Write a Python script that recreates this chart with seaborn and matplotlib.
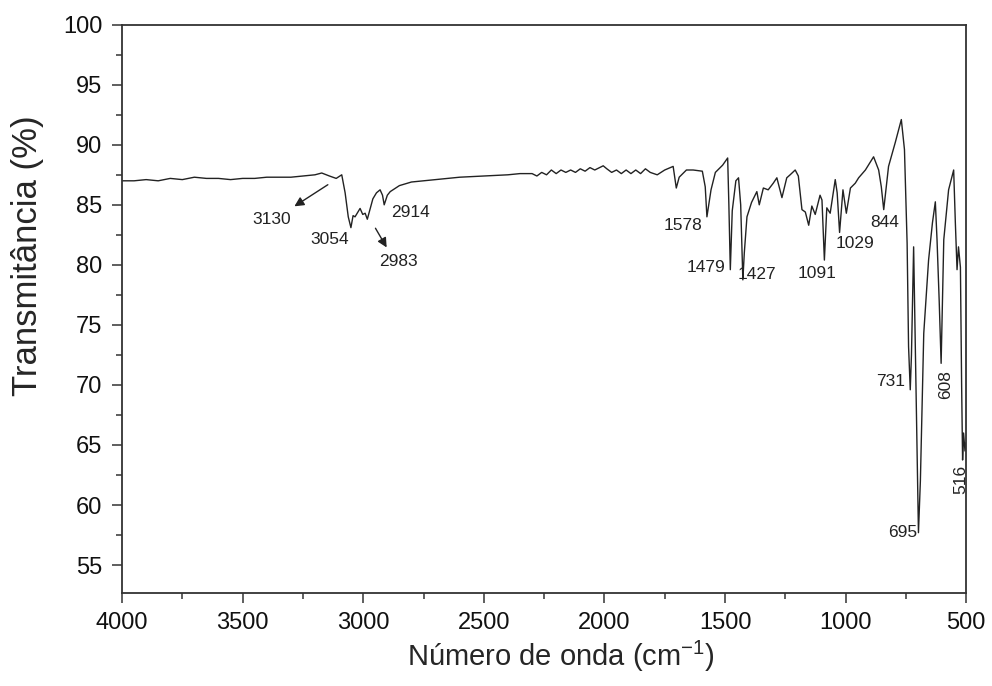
"""
Espectro FTIR: transmitância vs número de onda.
"""

import matplotlib
matplotlib.use("Agg")
import matplotlib.pyplot as plt
import pandas as pd
import seaborn as sns
from matplotlib.ticker import MultipleLocator

numero_onda = [
    4000, 3950, 3900, 3850, 3800, 3750, 3700, 3650, 3600, 3550,
    3500, 3450, 3400, 3350, 3300, 3250, 3200, 3172, 3140, 3112,
    3089, 3075, 3062, 3051, 3042, 3034, 3013, 3002, 2992, 2983,
    2960, 2945, 2930, 2920, 2913, 2900, 2888, 2850, 2800, 2700,
    2600, 2500, 2400, 2350, 2300, 2280, 2260, 2240, 2220, 2200,
    2180, 2160, 2140, 2120, 2100, 2080, 2060, 2040, 2020, 2005,
    1990, 1970, 1950, 1930, 1910, 1890, 1870, 1850, 1830, 1810,
    1781, 1750, 1715, 1702, 1690, 1660, 1632, 1594, 1582, 1575,
    1558, 1540, 1510, 1489, 1484, 1478, 1470, 1455, 1444, 1435,
    1426, 1420, 1409, 1390, 1368, 1358, 1341, 1321, 1300, 1285,
    1264, 1244, 1230, 1209, 1196, 1181, 1167, 1153, 1140, 1126,
    1106, 1098, 1088, 1078, 1064, 1043, 1035, 1025, 1011, 997,
    980, 960, 946, 918, 884, 863, 852, 842, 822, 794,
    769, 756, 745, 739, 732, 727, 718, 710, 698, 690,
    676, 656, 640, 628, 621, 612, 604, 593, 573, 552,
    545, 538, 532, 524, 519, 515, 511, 505, 501,
]
transmitancia = [
    87.0, 87.0, 87.1, 87.0, 87.2, 87.1, 87.3, 87.2, 87.2, 87.1,
    87.2, 87.2, 87.3, 87.3, 87.3, 87.4, 87.5, 87.65, 87.4, 87.2,
    87.5, 86.0, 84.0, 83.1, 84.1, 84.0, 84.7, 84.2, 84.3, 83.8,
    85.5, 86.0, 86.25, 85.8, 85.0, 85.8, 86.1, 86.6, 86.9, 87.1,
    87.3, 87.4, 87.5, 87.6, 87.6, 87.4, 87.7, 87.5, 87.9, 87.6,
    87.9, 87.7, 87.9, 87.7, 88.0, 87.8, 88.1, 87.9, 88.1, 88.25,
    88.0, 87.7, 87.9, 87.6, 87.9, 87.6, 87.9, 87.6, 88.0, 87.7,
    87.5, 87.9, 88.2, 86.4, 87.3, 87.9, 87.9, 87.8, 86.5, 84.0,
    86.25, 87.7, 88.3, 88.9, 85.0, 79.6, 84.5, 87.0, 87.25, 85.0,
    78.75, 81.0, 84.0, 85.2, 86.1, 85.0, 86.4, 86.25, 86.8, 87.25,
    85.6, 87.25, 87.5, 87.9, 87.4, 84.6, 84.4, 83.3, 84.9, 84.2,
    85.8, 85.4, 80.4, 84.75, 84.3, 87.1, 86.0, 82.7, 86.25, 84.3,
    86.4, 86.8, 87.25, 87.9, 89.0, 87.9, 86.5, 84.6, 88.2, 90.2,
    92.1, 89.6, 81.8, 73.2, 69.6, 72.5, 81.5, 72.0, 57.7, 62.0,
    74.3, 80.4, 83.5, 85.25, 82.1, 77.0, 71.8, 82.1, 86.25, 87.9,
    83.5, 79.6, 81.5, 79.8, 70.0, 63.75, 66.0, 64.5, 65.2,
]

# Rótulos dos picos e posição do texto (cm-1, %T)
picos_rotulos = ["3054", "2914", "1578", "1479", "1427", "1091", "1029", "844", "731", "695"]
picos_x = [3137, 2805, 1673, 1578, 1366, 1117, 960, 840, 815, 765]
picos_y = [82.1, 84.4, 83.3, 79.75, 79.2, 79.3, 81.75, 83.5, 70.25, 57.7]

# Rótulos verticais
vert_rotulos = ["608", "516"]
vert_x = [587, 524]
vert_y = [70.0, 62.1]

# Rótulos com seta: texto, ponta da seta, início da seta
seta_rotulos = ["3130", "2983"]
seta_texto = [(3378, 83.75), (2855, 80.25)]
seta_ponta = [(3295, 84.75), (2897, 81.25)]
seta_inicio = [(3137, 86.8), (2955, 83.25)]


def main():
    sns.set_style("ticks")
    plt.rcParams["font.family"] = ["Liberation Sans", "DejaVu Sans"]

    df = pd.DataFrame({"onda": numero_onda, "T": transmitancia})

    fig = plt.figure(figsize=(9.92, 6.86), dpi=100)
    ax = fig.add_axes([0.123, 0.136, 0.851, 0.828])

    sns.lineplot(data=df, x="onda", y="T", sort=False, color="#222222",
                 linewidth=1.0, ax=ax)

    ax.set_xlim(4000, 500)
    ax.set_ylim(52.7, 100)
    ax.xaxis.set_major_locator(MultipleLocator(500))
    ax.xaxis.set_minor_locator(MultipleLocator(250))
    ax.yaxis.set_major_locator(MultipleLocator(5))
    ax.yaxis.set_minor_locator(MultipleLocator(2.5))
    ax.tick_params(which="major", direction="out", length=7, width=1.1,
                   labelsize=17, color="#333333", labelcolor="#111111", pad=7)
    ax.tick_params(which="minor", direction="out", length=4, width=1.1,
                   color="#333333")

    for lado in ["top", "right", "left", "bottom"]:
        ax.spines[lado].set_visible(True)
        ax.spines[lado].set_color("#333333")
        ax.spines[lado].set_linewidth(1.3)

    ax.set_xlabel("Número de onda (cm$^{\\mathregular{-1}}$)", fontsize=21,
                  va="center")
    ax.xaxis.set_label_coords(0.52, -0.113)
    ax.set_ylabel("Transmitância (%)", fontsize=25, va="center")
    ax.yaxis.set_label_coords(-0.112, 0.593)

    for txt, x, y in zip(picos_rotulos, picos_x, picos_y):
        ax.text(x, y, txt, fontsize=12.5, ha="center", va="center", color="#222222")

    for txt, x, y in zip(vert_rotulos, vert_x, vert_y):
        ax.text(x, y, txt, fontsize=12.5, ha="center", va="center",
                rotation=90, color="#222222")

    for txt, pos, ponta, ini in zip(seta_rotulos, seta_texto, seta_ponta, seta_inicio):
        ax.text(pos[0], pos[1], txt, fontsize=12.5, ha="center", va="center",
                color="#222222")
        ax.annotate("", xy=ponta, xytext=ini,
                    arrowprops=dict(arrowstyle="-|>", color="#222222",
                                    lw=1.0, mutation_scale=14))

    fig.savefig("out.png", dpi=100)
    plt.close(fig)


if __name__ == "__main__":
    main()
